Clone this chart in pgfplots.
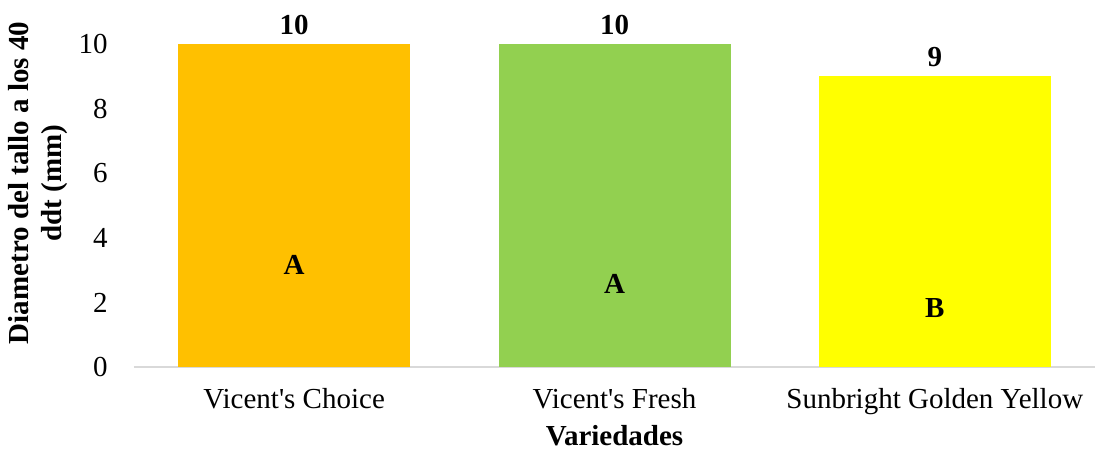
\documentclass[border=0pt]{standalone}
\usepackage{fontspec}
\setmainfont{Liberation Serif}[Ligatures=TeXOff]
\usepackage{pgfplots}
\pgfplotsset{compat=1.18}
\definecolor{cOrange}{HTML}{FFC000}
\definecolor{cGreen}{HTML}{92D050}
\definecolor{cYellow}{HTML}{FFFF00}
\definecolor{cAxis}{HTML}{D9D9D9}
\begin{document}
\fontsize{14.5}{17}\selectfont
\begin{tikzpicture}
\useasboundingbox (-67pt,-41.5pt) rectangle (481.5pt,183.5pt);
\begin{axis}[
  at={(0,0)}, anchor=south west,
  scale only axis, width=480.5pt, height=161.5pt,
  xmin=-0.5, xmax=2.5, ymin=0, ymax=10,
  clip=false,
  font=\fontsize{14.5}{17}\selectfont,
  xtick={0,1,2},
  xticklabels={Vicent's Choice, Vicent's Fresh, Sunbright Golden Yellow},
  ytick={0,2,4,6,8,10},
  /pgf/number format/assume math mode=true,
  axis x line*=bottom, axis y line*=left,
  x axis line style={draw=cAxis, line width=0.75pt, -},
  y axis line style={draw=none},
  major tick length=0pt,
  tick style={draw=none},
  xticklabel style={anchor=base, yshift=-20.5pt},
  yticklabel style={anchor=east, inner sep=0pt, xshift=-13pt},
  xlabel={Variedades},
  xlabel style={at={([yshift=-39pt]axis description cs:0.5,0)}, anchor=base, font=\bfseries\fontsize{14.5}{17}\selectfont},
  ylabel={Diametro del tallo a los 40\\ddt (mm)},
  ylabel style={at={([xshift=-48pt]axis description cs:0,0.57)}, anchor=center, align=center, font=\bfseries\fontsize{14.5}{16.5}\selectfont},
]
\addplot[ybar, bar width=116pt, bar shift=0pt, fill=cOrange, draw=none,
  nodes near coords, nodes near coords style={anchor=base, yshift=5pt, font=\bfseries\fontsize{14.5}{17}\selectfont, text=black}]
  coordinates {(0,10)};
\addplot[ybar, bar width=116pt, bar shift=0pt, fill=cGreen, draw=none,
  nodes near coords, nodes near coords style={anchor=base, yshift=5pt, font=\bfseries\fontsize{14.5}{17}\selectfont, text=black}]
  coordinates {(1,10)};
\addplot[ybar, bar width=116pt, bar shift=0pt, fill=cYellow, draw=none,
  nodes near coords, nodes near coords style={anchor=base, yshift=5pt, font=\bfseries\fontsize{14.5}{17}\selectfont, text=black}]
  coordinates {(2,9)};
\addplot[draw=none, mark=none, nodes near coords, point meta=explicit symbolic,
  nodes near coords style={anchor=center, font=\bfseries\fontsize{14.5}{17}\selectfont, text=black}]
  table[meta=lab] {
x y lab
0 3.17 A
1 2.57 A
2 1.83 B
};
\end{axis}
\end{tikzpicture}
\end{document}
